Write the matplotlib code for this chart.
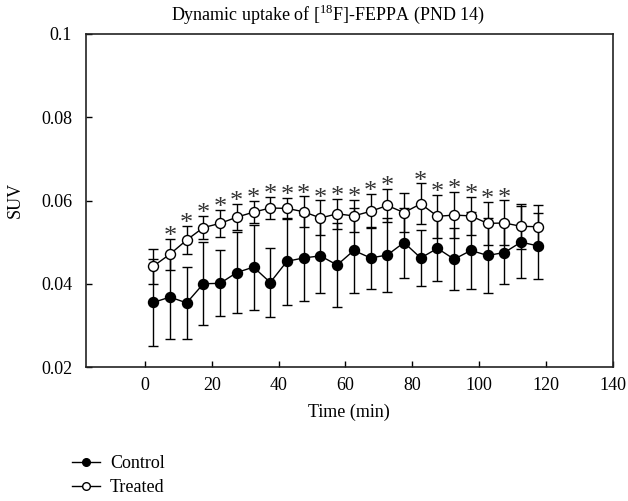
import matplotlib
matplotlib.use("Agg")
import matplotlib.pyplot as plt
from matplotlib.lines import Line2D

plt.rcParams['font.family'] = ['Liberation Serif', 'DejaVu Serif']
plt.rcParams['mathtext.fontset'] = 'custom'
plt.rcParams['mathtext.rm'] = 'Liberation Serif'

time_min = [2.5, 7.5, 12.5, 17.5, 22.5, 27.5, 32.5, 37.5, 42.5, 47.5, 52.5, 57.5,
            62.5, 67.5, 72.5, 77.5, 82.5, 87.5, 92.5, 97.5, 102.5, 107.5, 112.5, 117.5]

control_mean = [0.0355, 0.0368, 0.0354, 0.0400, 0.0401, 0.0427, 0.0440, 0.0403,
                0.0454, 0.0462, 0.0467, 0.0445, 0.0480, 0.0462, 0.0469, 0.0499,
                0.0462, 0.0485, 0.0459, 0.0480, 0.0468, 0.0475, 0.0500, 0.0491]
control_sd = [0.0104, 0.0100, 0.0086, 0.0100, 0.0079, 0.0097, 0.0102, 0.0084,
              0.0104, 0.0104, 0.0090, 0.0100, 0.0102, 0.0075, 0.0090, 0.0084,
              0.0068, 0.0078, 0.0074, 0.0092, 0.0090, 0.0076, 0.0086, 0.0080]

treated_mean = [0.0442, 0.0471, 0.0505, 0.0535, 0.0545, 0.0560, 0.0572, 0.0582,
                0.0581, 0.0573, 0.0558, 0.0568, 0.0563, 0.0574, 0.0588, 0.0571,
                0.0592, 0.0562, 0.0565, 0.0563, 0.0545, 0.0546, 0.0538, 0.0537]
treated_sd = [0.0042, 0.0037, 0.0033, 0.0028, 0.0033, 0.0031, 0.0027, 0.0026,
              0.0026, 0.0037, 0.0042, 0.0036, 0.0038, 0.0041, 0.0040, 0.0046,
              0.0049, 0.0051, 0.0056, 0.0046, 0.0052, 0.0054, 0.0054, 0.0051]

significant = [False, True, True, True, True, True, True, True, True, True, True, True,
               True, True, True, False, True, True, True, True, True, True, False, False]

x_ticks = [0, 20, 40, 60, 80, 100, 120, 140]
y_ticks = [0.02, 0.04, 0.06, 0.08, 0.1]
y_ticklabels = ['0.02', '0.04', '0.06', '0.08', '0.1']

FS = 13

fig = plt.figure(figsize=(6.28, 5.01), dpi=100)
ax = fig.add_axes([86/628, 1-367/501, (613-86)/628, (367-34)/501])

ms = 7.2
ax.errorbar(time_min, control_mean, yerr=control_sd, color='black', lw=1.0,
            marker='o', ms=ms, mfc='black', mec='black', capsize=3.6,
            elinewidth=1.0, capthick=1.0, zorder=2)
ax.errorbar(time_min, treated_mean, yerr=treated_sd, color='black', lw=1.0,
            marker='o', ms=ms, mfc='white', mec='black', mew=1.0, capsize=3.6,
            elinewidth=1.0, capthick=1.0, zorder=3)

for t, m, s, sig in zip(time_min, treated_mean, treated_sd, significant):
    if sig:
        ax.annotate('*', xy=(t, m + s), xytext=(0, -3), textcoords='offset points',
                    ha='center', va='baseline', fontsize=19, color='#333333')

ax.set_xlim(-17.6, 140)
ax.set_ylim(0.02, 0.1)
ax.set_xticks(x_ticks)
ax.set_xticklabels([str(v) for v in x_ticks])
ax.set_yticks(y_ticks)
ax.set_yticklabels(y_ticklabels)
ax.tick_params(direction='in', length=4, width=1, labelsize=FS,
               top=False, right=False)
ax.tick_params(axis='x', pad=7)
ax.tick_params(axis='y', pad=10)
for sp in ax.spines.values():
    sp.set_linewidth(1.2)
    sp.set_color('#222222')

fig.text(15/628, 1-200/501, 'SUV', rotation=90, ha='center', va='center', fontsize=FS)
fig.text(349/628, 1-412/501, 'Time (min)', ha='center', va='center', fontsize=FS)
fig.text(328/628, 1-14/501, r'Dynamic uptake of [$^{18}$F]-FEPPA (PND 14)',
         ha='center', va='center', fontsize=FS)

handles = [Line2D([], [], color='black', lw=1.0, marker='o', ms=5.5, mfc='black', mec='black'),
           Line2D([], [], color='black', lw=1.0, marker='o', ms=5.5, mfc='white', mec='black')]
fig.legend(handles, ['Control', 'Treated'], loc='upper left',
           bbox_to_anchor=(72/628, 1-455/501), frameon=False, fontsize=FS,
           handlelength=1.55, handletextpad=0.55, labelspacing=0.4, borderpad=0,
           borderaxespad=0)

fig.savefig('out.png', dpi=100)
